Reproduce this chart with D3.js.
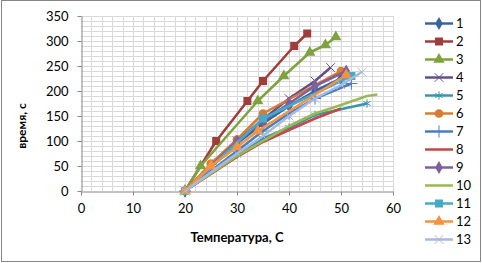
<!DOCTYPE html>
<html>
<head>
<meta charset="utf-8">
<script src="https://cdn.jsdelivr.net/npm/d3@7"></script>
<style>
  body { margin: 0; background: #fff; }
  svg { display: block; font-family: Lato, "Open Sans", sans-serif; }
</style>
</head>
<body>
<div id="chart"></div>
<script>
// series names and their points [температура, время]
const seriesNames = ["1", "2", "3", "4", "5", "6", "7", "8", "9", "10", "11", "12", "13"];

const s1 = [[20, 0], [30, 95], [35, 135], [40, 170], [45, 200], [50, 225]];
const s2 = [[20, 0], [26, 100], [32, 180], [35, 220], [41, 290], [43.5, 315]];
const s3 = [[20, 0], [23, 50], [34, 180], [39, 230], [44, 277], [47, 292], [49, 308]];
const s4 = [[20, 0], [30, 100], [35, 143], [40, 185], [45, 220], [48, 247]];
const s5 = [[20, 0], [30, 72], [35, 105], [40, 127], [45, 152], [55, 175]];
const s6 = [[20, 0], [25, 55], [30, 103], [35, 155], [50, 240]];
const s7 = [[20, 0], [30, 80], [35, 120], [40, 155], [45, 185], [52, 215]];
const s8 = [[20, 0], [30, 68], [35, 98], [40, 122], [45, 145], [50, 165]];
const s9 = [[20, 0], [30, 100], [35, 140], [40, 175], [45, 210], [51, 240]];
const s10 = [[20, 0], [30, 70], [35, 100], [40, 130], [45, 155], [50, 172], [55, 190], [57, 193]];
const s11 = [[20, 0], [35, 145], [52, 230]];
const s12 = [[20, 0], [25, 50], [30, 88], [34, 120], [51, 232]];
const s13 = [[20, 0], [30, 75], [35, 110], [40, 150], [45, 185], [50, 212], [54, 238]];

const seriesData = [s1, s2, s3, s4, s5, s6, s7, s8, s9, s10, s11, s12, s13];

const xTicks = [0, 10, 20, 30, 40, 50, 60];
const yTicks = [0, 50, 100, 150, 200, 250, 300, 350];

const seriesColors = ["#3a64a0", "#a03c3a", "#7ea23e", "#654f8a", "#3a95aa", "#d97b33",
    "#4a7ebb", "#be4b48", "#7d60a0", "#98b954", "#46aac5", "#f69240", "#a7b9e3"];
const seriesMarkers = ["diamond", "square", "triangle", "x", "asterisk", "circle",
    "plus", "none", "diamond", "none", "square", "triangle", "x"];

const W = 482, H = 263;
const plot = { left: 81, right: 393, top: 16, bottom: 191 };

const svg = d3.select("#chart").append("svg")
    .attr("width", W)
    .attr("height", H);

// outer chart border
svg.append("rect")
    .attr("x", 1.5).attr("y", 0.5)
    .attr("width", 479).attr("height", 261)
    .attr("fill", "#fff")
    .attr("stroke", "#868686");

const x = d3.scaleLinear().domain([0, 60]).range([plot.left, plot.right]);
const y = d3.scaleLinear().domain([0, 350]).range([plot.bottom, plot.top]);

// minor + major gridlines
const grid = svg.append("g").attr("stroke", "#d9d9d9").attr("stroke-width", 1);
grid.selectAll(".vg")
    .data(d3.range(2, 61, 2))
    .enter().append("line")
    .attr("x1", d => Math.round(x(d)) + 0.5).attr("x2", d => Math.round(x(d)) + 0.5)
    .attr("y1", plot.top).attr("y2", plot.bottom);
grid.selectAll(".hg")
    .data(d3.range(10, 351, 10))
    .enter().append("line")
    .attr("y1", d => Math.round(y(d)) + 0.5).attr("y2", d => Math.round(y(d)) + 0.5)
    .attr("x1", plot.left).attr("x2", plot.right);

// axes
const xAxis = svg.append("g")
    .attr("transform", `translate(0,${plot.bottom + 0.5})`)
    .call(d3.axisBottom(x).tickValues(xTicks).tickSize(4).tickSizeOuter(0).tickPadding(8));
const yAxis = svg.append("g")
    .attr("transform", `translate(${plot.left + 0.5},0)`)
    .call(d3.axisLeft(y).tickValues(yTicks).tickSize(4).tickSizeOuter(0).tickPadding(9));

[xAxis, yAxis].forEach(a => {
    a.select(".domain").attr("stroke", "#868686");
    a.selectAll(".tick line").attr("stroke", "#868686");
    a.selectAll(".tick text")
        .attr("fill", "#000")
        .style("font-size", "13px")
        .style("font-family", "Lato, sans-serif");
});
yAxis.selectAll(".tick text").attr("dy", "0.35em");

function symbolFor(name) {
    return {
        diamond: d3.symbolDiamond, square: d3.symbolSquare, triangle: d3.symbolTriangle,
        x: d3.symbolX, asterisk: d3.symbolAsterisk, circle: d3.symbolCircle, plus: d3.symbolPlus
    }[name];
}
const strokeMarkers = ["x", "asterisk", "plus"];

function drawMarker(g, name, color, cx, cy) {
    if (name === "none") return;
    const size = name === "square" ? 64 : name === "circle" ? 60 : name === "triangle" ? 55 : 50;
    const p = g.append("path")
        .attr("transform", `translate(${cx},${cy})`)
        .attr("d", d3.symbol().type(symbolFor(name)).size(size)());
    if (strokeMarkers.includes(name)) {
        p.attr("fill", "none").attr("stroke", color).attr("stroke-width", 1);
    } else {
        p.attr("fill", color);
    }
}

const line = d3.line().x(d => x(d[0])).y(d => y(d[1]));

const lines = svg.append("g");
seriesData.forEach((pts, i) => {
    const g = lines.append("g");
    g.append("path")
        .datum(pts)
        .attr("fill", "none")
        .attr("stroke", seriesColors[i])
        .attr("stroke-width", 2.5)
        .attr("stroke-linejoin", "round")
        .attr("d", line);
    pts.forEach(p => drawMarker(g, seriesMarkers[i], seriesColors[i], x(p[0]), y(p[1])));
});

// legend
const legend = svg.append("g");
seriesNames.forEach((name, i) => {
    const ly = 23.5 + i * 18;
    const item = legend.append("g");
    item.append("line")
        .attr("x1", 425).attr("x2", 453)
        .attr("y1", ly).attr("y2", ly)
        .attr("stroke", seriesColors[i])
        .attr("stroke-width", 2.5);
    drawMarker(item, seriesMarkers[i], seriesColors[i], 439, ly);
    item.append("text")
        .attr("x", 456)
        .attr("y", ly)
        .attr("dy", "0.35em")
        .style("font-size", "13px")
        .text(name);
});

// axis titles
svg.append("text")
    .attr("transform", "translate(26,126) rotate(-90)")
    .attr("text-anchor", "middle")
    .style("font-size", "12px")
    .style("font-weight", "bold")
    .text("время, с");

svg.append("text")
    .attr("x", 237)
    .attr("y", 242)
    .attr("text-anchor", "middle")
    .style("font-size", "13px")
    .style("font-weight", "bold")
    .text("Температура, С");
</script>
</body>
</html>
